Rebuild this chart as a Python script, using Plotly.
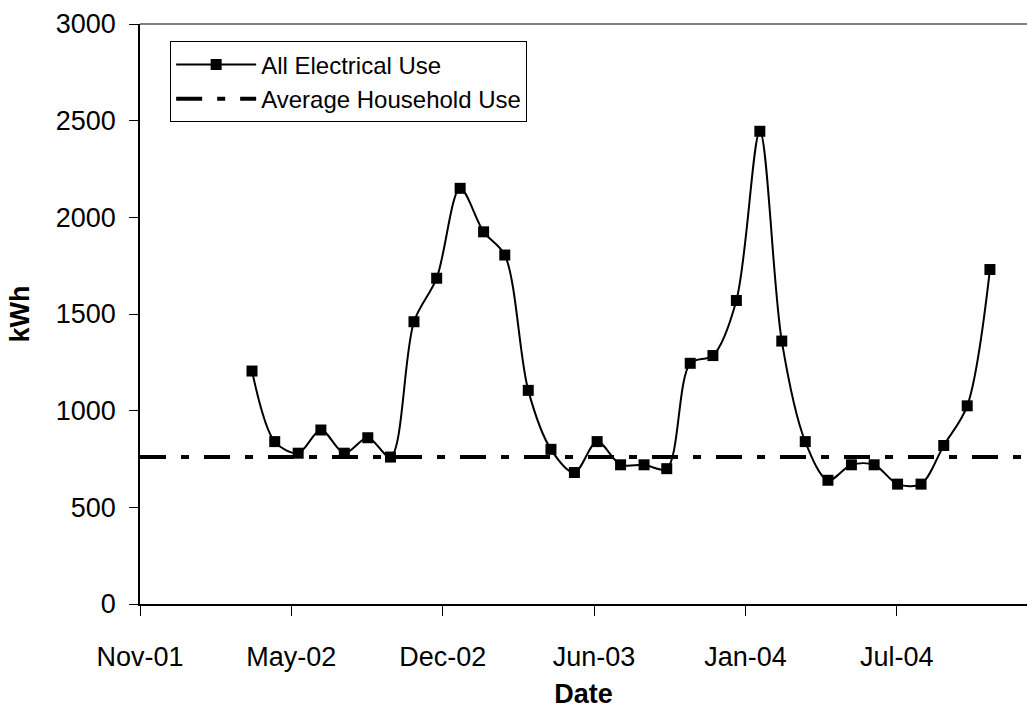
import plotly.graph_objects as go

# Monthly electricity readings (kWh)
reading_dates = [
    "2002-04-01", "2002-05-01", "2002-06-01", "2002-07-01", "2002-08-01",
    "2002-09-01", "2002-10-01", "2002-11-01", "2002-12-01", "2003-01-01",
    "2003-02-01", "2003-03-01", "2003-04-01", "2003-05-01", "2003-06-01",
    "2003-07-01", "2003-08-01", "2003-09-01", "2003-10-01", "2003-11-01",
    "2003-12-01", "2004-01-01", "2004-02-01", "2004-03-01", "2004-04-01",
    "2004-05-01", "2004-06-01", "2004-07-01", "2004-08-01", "2004-09-01",
    "2004-10-01", "2004-11-01", "2004-12-01",
]
electrical_use = [
    1205, 840, 780, 900, 780,
    860, 760, 1460, 1685, 2150,
    1925, 1805, 1105, 800, 680,
    840, 720, 720, 700, 1245,
    1285, 1570, 2445, 1360, 840,
    640, 720, 720, 620, 620,
    820, 1025, 1730,
]

average_household_use = 760

# Date axis: ticks every 200 days
axis_range = ["2001-11-04", "2005-01-19"]
tick_dates = ["2001-11-04", "2002-05-23", "2002-12-09", "2003-06-27", "2004-01-13", "2004-07-31"]
tick_labels = ["Nov-01", "May-02", "Dec-02", "Jun-03", "Jan-04", "Jul-04"]

FONT = "Liberation Sans, Arial, sans-serif"

fig = go.Figure()

fig.add_trace(go.Scatter(
    x=reading_dates,
    y=electrical_use,
    mode="lines+markers",
    name="All Electrical Use",
    line=dict(color="black", width=2, shape="spline", smoothing=0.9),
    marker=dict(symbol="square", size=11, color="black"),
))

fig.add_trace(go.Scatter(
    x=axis_range,
    y=[average_household_use, average_household_use],
    mode="lines",
    name="Average Household Use",
    line=dict(color="black", width=4, dash="26px,15px,8px,15px"),
))

# plot-area border along the top
fig.add_shape(type="line", xref="paper", yref="paper", x0=0, x1=1, y0=1, y1=1,
              line=dict(color="#808080", width=2))

fig.update_layout(
    width=1027,
    height=709,
    margin=dict(l=140, r=0, t=24, b=105),
    paper_bgcolor="white",
    plot_bgcolor="white",
    font=dict(family=FONT, color="black", size=27),
    showlegend=True,
    legend=dict(
        x=0.034, y=0.97, xanchor="left", yanchor="top",
        bgcolor="white", bordercolor="black", borderwidth=1,
        font=dict(size=24, family=FONT),
        itemwidth=80,
        tracegroupgap=0,
    ),
    xaxis=dict(
        type="date",
        range=axis_range,
        tickmode="array",
        tickvals=tick_dates,
        ticktext=tick_labels,
        ticks="outside",
        ticklen=10,
        tickcolor="black",
        tickwidth=1,
        showline=True,
        linecolor="black",
        linewidth=1.5,
        showgrid=False,
        zeroline=False,
        automargin=False,
        tickfont=dict(size=27),
        ticklabelstandoff=18,
        title=dict(text="<b>Date</b>", font=dict(size=27), standoff=28),
    ),
    yaxis=dict(
        range=[0, 3000],
        tickvals=[0, 500, 1000, 1500, 2000, 2500, 3000],
        ticks="outside",
        ticklen=9,
        tickcolor="black",
        tickwidth=1,
        showline=True,
        linecolor="black",
        linewidth=1.5,
        showgrid=False,
        zeroline=False,
        automargin=False,
        tickfont=dict(size=27),
        ticklabelstandoff=8,
        title=dict(text="<b>kWh</b>", font=dict(size=27), standoff=18),
    ),
)

fig.write_html("out.html")
